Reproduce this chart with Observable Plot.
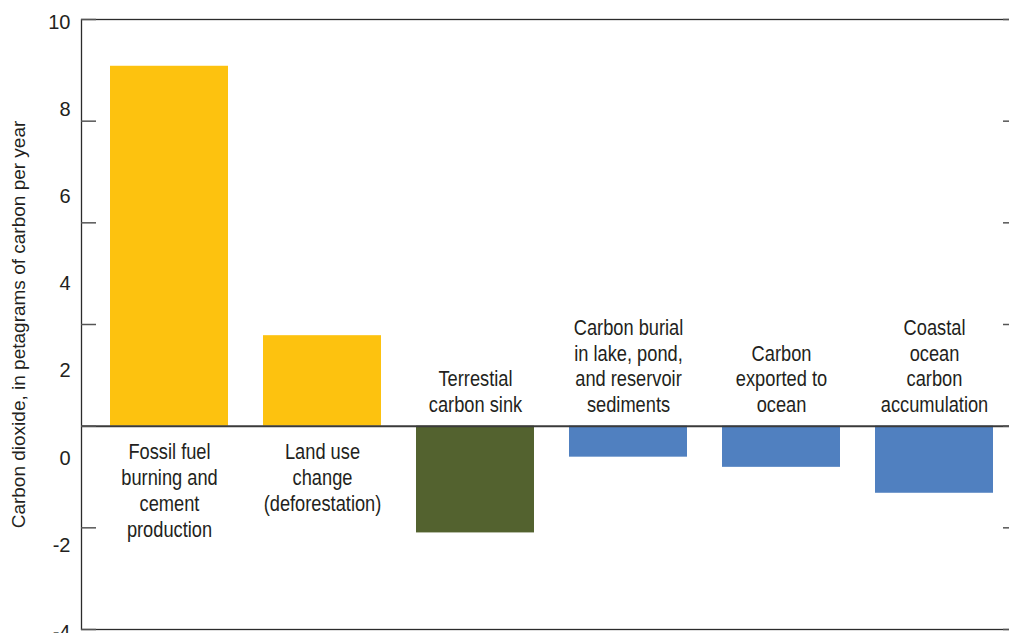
<!DOCTYPE html>
<html>
<head>
<meta charset="utf-8">
<script src="https://cdn.jsdelivr.net/npm/d3@7"></script>
<script src="https://cdn.jsdelivr.net/npm/@observablehq/plot@0.6"></script>
<style>
  html, body { margin: 0; padding: 0; overflow: hidden; background: #ffffff; }
  #chart svg { max-width: none !important; }
</style>
</head>
<body>
<div id="chart"></div>
<script>
// ---- data ----
const categories = [
  "Fossil fuel\nburning and\ncement\nproduction",
  "Land use\nchange\n(deforestation)",
  "Terrestial\ncarbon sink",
  "Carbon burial\nin lake, pond,\nand reservoir\nsediments",
  "Carbon\nexported to\nocean",
  "Coastal\nocean\ncarbon\naccumulation"
];
const values = [7.08, 1.78, -2.10, -0.61, -0.81, -1.32];
const groups = ["source", "source", "land", "water", "water", "water"];
const groupNames = ["source", "land", "water"];
const groupColors = ["#FDC20F", "#53622F", "#5080C0"];
const yTickValues = [-4, -2, 0, 2, 4, 6, 8];
const yTickLabels = ["-4", "-2", "0", "2", "4", "6", "8", "10"];
const yTitle = "Carbon dioxide, in petagrams of carbon per year";

const yMin = -4, yMax = 8;
const data = categories.map((c, i) => ({category: c, value: values[i], group: groups[i]}));
const labelData = yTickLabels.map((t, i) => ({
  label: t,
  pos: yMin + i * (yMax - yMin) / (yTickLabels.length - 1)
}));

const W = 1016, H = 633, ML = 81, MR = 4, MT = 19, MB = 4;
const plotW = W - ML - MR;
const regular = "'Liberation Sans', Arial, sans-serif";
const ink = "#231f20";

const chart = Plot.plot({
  width: W,
  height: H,
  marginLeft: ML,
  marginRight: MR,
  marginTop: MT,
  marginBottom: MB,
  style: {fontFamily: regular, color: ink, background: "#fff", maxWidth: "none"},
  x: {type: "band", domain: categories, range: [90, 1012], paddingInner: 0.232, paddingOuter: 0.116, axis: null},
  y: {domain: [yMin, yMax], range: [H - MB, MT], axis: null},
  color: {domain: groupNames, range: groupColors},
  marks: [
    Plot.barY(data, {x: "category", y: "value", fill: "group"}),
    Plot.frame({stroke: "#2b2b2b", strokeWidth: 1.3}),
    Plot.ruleY([0], {stroke: "#3a3a3a", strokeWidth: 2}),
    Plot.tickY(yTickValues, {y: d => d, insetRight: plotW - 15, stroke: "#555", strokeWidth: 1.5}),
    Plot.tickY(yTickValues, {y: d => d, insetLeft: plotW - 9, stroke: "#555", strokeWidth: 1.5}),
    Plot.text(labelData, {
      y: "pos", text: "label", frameAnchor: "left", textAnchor: "end",
      dx: -11, dy: 3, fontSize: 20, fill: ink
    }),
    Plot.text(data.filter(d => d.value >= 0), {
      x: "category", y: () => 0, text: "category", lineAnchor: "top",
      dy: 15, fontSize: 22, lineHeight: 1.17, fill: ink
    }),
    Plot.text(data.filter(d => d.value < 0), {
      x: "category", y: () => 0, text: "category", lineAnchor: "bottom",
      dy: -14, fontSize: 22, lineHeight: 1.17, fill: ink
    }),
    Plot.text([yTitle], {
      text: d => d, frameAnchor: "left", textAnchor: "middle", rotate: -90, dx: -63,
      fontSize: 19, fill: ink
    })
  ]
});
chart.style.maxWidth = "none";
// condensed look for the category labels (Univers Condensed in the original)
d3.select(chart).selectAll('g[font-size="22"] text').each(function () {
  const t = this.getAttribute("transform") || "";
  this.setAttribute("transform", t + " scale(0.83,1)");
});
document.getElementById("chart").appendChild(chart);
</script>
</body>
</html>
